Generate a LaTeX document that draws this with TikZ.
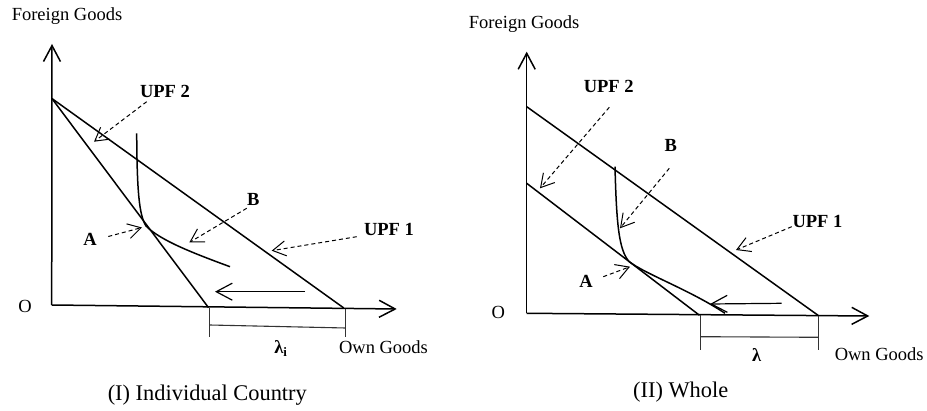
\documentclass[tikz,border=0pt]{standalone}
\usepackage{fontspec}
\setmainfont{Liberation Serif}
\usetikzlibrary{arrows.meta}
\tikzset{
  axisline/.style={line width=1.5pt,-{Straight Barb[length=16pt,width=17pt]}},
  upfline/.style={line width=1.5pt},
  curveline/.style={line width=1.5pt},
  shiftarrow/.style={line width=1.2pt,-{Straight Barb[length=16pt,width=17pt]}},
  pointer/.style={line width=1pt,dash pattern=on 4pt off 3pt,-{Straight Barb[length=13pt,width=15pt]}},
  bracketline/.style={line width=1.1pt,black!80},
  lab/.style={font=\fontsize{18.5}{22}\selectfont,inner sep=0pt},
  blab/.style={font=\fontsize{18.5}{22}\selectfont\bfseries,inner sep=0pt},
  captext/.style={font=\fontsize{22.4}{26}\selectfont,inner sep=0pt}
}
\begin{document}
\begin{tikzpicture}[x=1pt,y=-1pt]
\useasboundingbox (0,0) rectangle (927,411);
% ---------- Panel I ----------
\coordinate (O1) at (51.7,305);
\coordinate (Y1) at (52,44);
\coordinate (X1) at (396.7,309);
\coordinate (T1) at (51.9,98.5);
\coordinate (E1a) at (343.8,308);
\coordinate (E1b) at (208.5,307.6);
\coordinate (K1a) at (209.5,307.6);
\coordinate (K1ab) at (209.5,336.7);
\coordinate (K1b) at (345.5,308.6);
\coordinate (K1bb) at (345.5,336.7);
\coordinate (H1a) at (209.5,325);
\coordinate (H1b) at (345.5,328);
\coordinate (S1a) at (305,291.7);
\coordinate (S1b) at (215,291.7);
\coordinate (C1s) at (136.7,133.3);
\coordinate (C1t) at (146,226);
\coordinate (C1e) at (230,266.7);
\coordinate (P1u2s) at (146.7,101.7);
\coordinate (P1u2e) at (94,141.7);
\coordinate (P1bs) at (246.7,208.3);
\coordinate (P1be) at (189.3,242.5);
\coordinate (P1u1s) at (356.7,236.7);
\coordinate (P1u1e) at (271.7,250.7);
\coordinate (P1as) at (108.3,236.5);
\coordinate (P1ae) at (142,227.5);

\draw[axisline] (O1) -- (Y1);
\draw[axisline] (O1) -- (X1);
\draw[upfline] (T1) -- (E1a);
\draw[upfline] (T1) -- (E1b);
\draw[bracketline] (K1a) -- (K1ab);
\draw[bracketline] (K1b) -- (K1bb);
\draw[bracketline] (H1a) -- (H1b);
\draw[shiftarrow] (S1a) -- (S1b);
\draw[curveline] (C1s) .. controls (137,190) and (139,215) .. (C1t)
  .. controls (160,240) and (190,252) .. (C1e);
\draw[pointer] (P1u2s) -- (P1u2e);
\draw[pointer] (P1bs) -- (P1be);
\draw[pointer] (P1u1s) -- (P1u1e);
\draw[pointer] (P1as) -- (P1ae);

\node[lab] (fg1) at (67,15.8) {Foreign Goods};
\node[lab] (o1) at (25,306) {O};
\node[lab] (og1) at (383.5,347.3) {Own Goods};
\node[blab] (lam1) at (281,348.5) {λ\textsubscript{i}};
\node[blab] (upf21) at (165,91) {UPF 2};
\node[blab] (upf11) at (389,229.2) {UPF 1};
\node[blab] (b1) at (253.3,199) {B};
\node[blab] (a1) at (90,239.3) {A};
\node[captext] (cap1) at (207.3,395.5) {(I) Individual Country};

% ---------- Panel II ----------
\coordinate (O2) at (526.7,313.3);
\coordinate (Y2) at (526.7,51.7);
\coordinate (X2) at (869.3,316);
\coordinate (T2a) at (526.7,106.7);
\coordinate (E2a) at (818.3,315.5);
\coordinate (T2b) at (526.7,183.3);
\coordinate (E2b) at (699.5,315.3);
\coordinate (K2a) at (700.7,315.5);
\coordinate (K2ab) at (700.7,350);
\coordinate (K2b) at (818.3,315.8);
\coordinate (K2bb) at (818.3,350);
\coordinate (H2a) at (700.7,336.7);
\coordinate (H2b) at (818.3,337.3);
\coordinate (S2a) at (781.7,303.3);
\coordinate (S2b) at (710,304);
\coordinate (C2s) at (615,166.7);
\coordinate (C2t) at (629,261.5);
\coordinate (C2e) at (725,313.3);
\coordinate (P2u2s) at (609.3,107.3);
\coordinate (P2u2e) at (540,188.3);
\coordinate (P2bs) at (669.3,168.3);
\coordinate (P2be) at (620,228.3);
\coordinate (P2u1s) at (791.7,226.7);
\coordinate (P2u1e) at (736,250);
\coordinate (P2as) at (603.3,276.7);
\coordinate (P2ae) at (630,266.7);

\draw[axisline] (O2) -- (Y2);
\draw[axisline] (O2) -- (X2);
\draw[upfline] (T2a) -- (E2a);
\draw[upfline] (T2b) -- (E2b);
\draw[bracketline] (K2a) -- (K2ab);
\draw[bracketline] (K2b) -- (K2bb);
\draw[bracketline] (H2a) -- (H2b);
\draw[shiftarrow] (S2a) -- (S2b);
\draw[curveline] (C2s) .. controls (616.5,225) and (619,250) .. (C2t)
  .. controls (645,274) and (690,290) .. (C2e);
\draw[pointer] (P2u2s) -- (P2u2e);
\draw[pointer] (P2bs) -- (P2be);
\draw[pointer] (P2u1s) -- (P2u1e);
\draw[pointer] (P2as) -- (P2ae);

\node[lab] (fg2) at (524.2,24.2) {Foreign Goods};
\node[lab] (o2) at (498.3,312.3) {O};
\node[lab] (og2) at (879.2,354) {Own Goods};
\node[blab] (lam2) at (756.7,355) {λ};
\node[blab] (upf22) at (608.7,86) {UPF 2};
\node[blab] (upf12) at (817.5,221.7) {UPF 1};
\node[blab] (b2) at (670.7,145.7) {B};
\node[blab] (a2) at (586,281.7) {A};
\node[captext] (cap2) at (680.7,392) {(II) Whole};
\end{tikzpicture}
\end{document}
